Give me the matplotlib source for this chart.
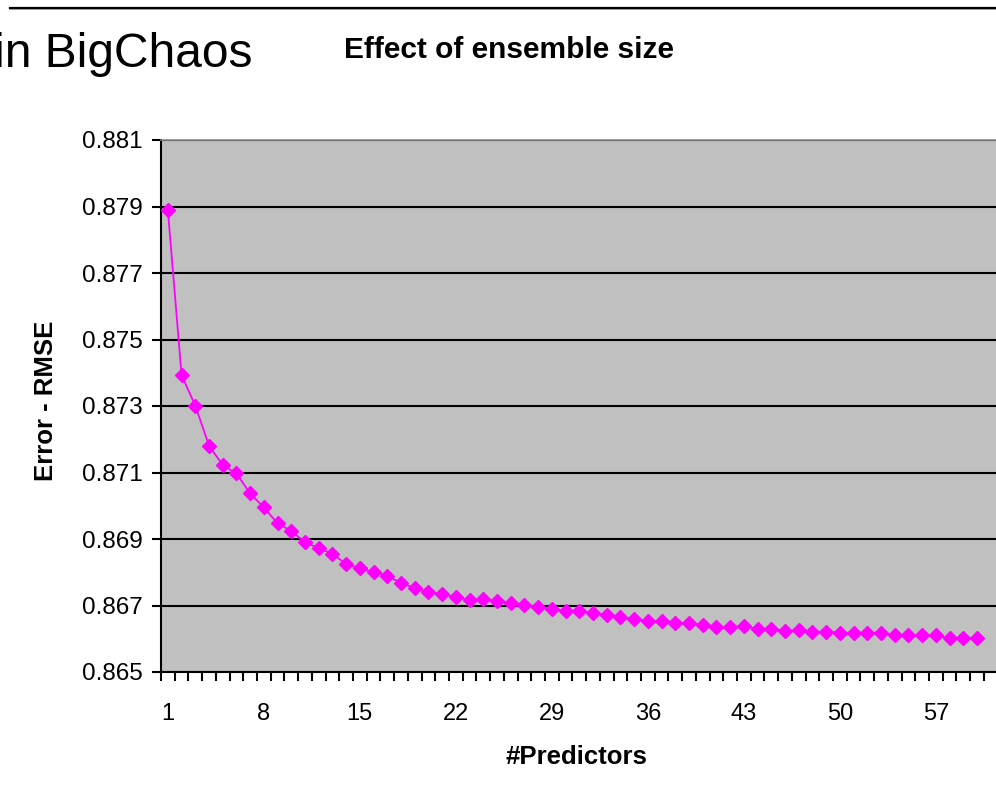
import matplotlib
matplotlib.use("Agg")
import matplotlib.pyplot as plt
from matplotlib.lines import Line2D
import numpy as np

plt.rcParams['font.family'] = ['Liberation Sans', 'DejaVu Sans']

# RMSE of the blended ensemble as predictors are added
rmse = [
    0.87889, 0.87393, 0.87301, 0.87181, 0.87122, 0.87097, 0.87037, 0.86995,
    0.86947, 0.86924, 0.86890, 0.86873, 0.86855, 0.86825, 0.86812, 0.86800,
    0.86790, 0.86767, 0.86753, 0.86740, 0.86735, 0.86725, 0.86717, 0.86719,
    0.86713, 0.86708, 0.86703, 0.86696, 0.86690, 0.86683, 0.86683, 0.86678,
    0.86671, 0.86665, 0.86659, 0.86652, 0.86654, 0.86647, 0.86647, 0.86642,
    0.86636, 0.86636, 0.86637, 0.86630, 0.86630, 0.86624, 0.86625, 0.86621,
    0.86621, 0.86618, 0.86618, 0.86618, 0.86618, 0.86610, 0.86610, 0.86610,
    0.86610, 0.86601, 0.86601, 0.86601,
]
n_predictors = list(range(1, len(rmse) + 1))
x_labels = [1, 8, 15, 22, 29, 36, 43, 50, 57]
y_ticks = [0.865, 0.867, 0.869, 0.871, 0.873, 0.875, 0.877, 0.879, 0.881]

W, H = 996, 797
fig = plt.figure(figsize=(W / 100, H / 100), dpi=100)
fig.patch.set_facecolor('white')

def fx(px):
    return px / W

def fy(py):
    return 1 - py / H

ax = fig.add_axes([fx(161), fy(672), 1 - fx(161), fy(140) - fy(672)])
ax.set_facecolor('#C0C0C0')

ax.set_ylim(0.865, 0.881)
ax.set_xlim(0.5, 61.38)

ax.set_yticks(y_ticks)
ax.set_yticklabels([f"{v:.3f}" for v in y_ticks])
ax.yaxis.grid(True, color='black', linewidth=1.5)
ax.set_axisbelow(True)

# category boundaries carry the tick marks, labels sit on category centres
ax.set_xticks(x_labels)
ax.set_xticklabels([str(v) for v in x_labels])
ax.set_xticks(np.arange(0.5, 61.5, 1.0), minor=True)
ax.tick_params(axis='x', which='major', length=0, pad=22, labelsize=17)
ax.tick_params(axis='x', which='minor', length=6.5, width=1.5, color='black', direction='out')
ax.tick_params(axis='y', which='major', length=6.5, width=1.5, color='black', direction='out',
               pad=7, labelsize=17.5)

for s in ('left', 'bottom'):
    ax.spines[s].set_color('black')
    ax.spines[s].set_linewidth(1.5)
ax.spines['right'].set_visible(False)
ax.spines['top'].set_color('#8a8a8a')
ax.spines['top'].set_linewidth(1.2)

ax.plot(n_predictors, rmse, color='#FF00FF', linewidth=1.3, marker='D',
        markersize=7.5, markerfacecolor='#FF00FF', markeredgecolor='#FF00FF',
        clip_on=False, zorder=3)

fig.text(fx(46), fy(401), 'Error - RMSE', rotation=90, ha='center', va='center',
         fontsize=18.5, fontweight='bold')
fig.text(fx(576), fy(757), '#Predictors', ha='center', va='center',
         fontsize=18.5, fontweight='bold')

fig.text(fx(509), fy(58), 'Effect of ensemble size', ha='center', va='baseline',
         fontsize=21.5, fontweight='bold')
fig.text(fx(-6), fy(67), 'in BigChaos', ha='left', va='baseline', fontsize=34.5)

fig.add_artist(Line2D([fx(10), 1.0], [fy(8.5), fy(8.5)], color='#b0b0b0', linewidth=1.5))
fig.add_artist(Line2D([fx(10), 1.0], [fy(7.5), fy(7.5)], color='black', linewidth=1.6))

fig.savefig('out.png', dpi=100)
